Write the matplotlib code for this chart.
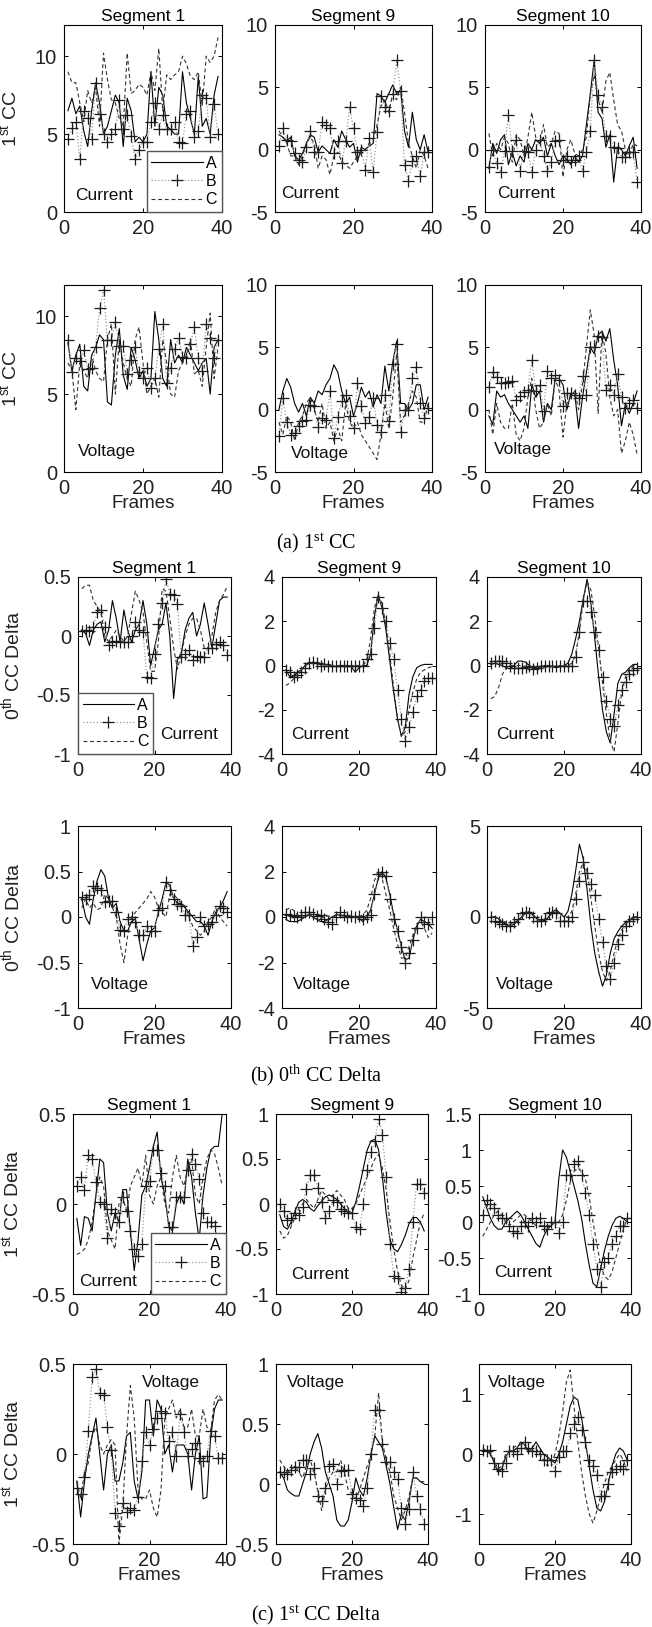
import matplotlib
matplotlib.use('Agg')
import matplotlib.pyplot as plt

plt.rcParams['font.family'] = ['Liberation Sans', 'DejaVu Sans']
plt.rcParams['mathtext.default'] = 'regular'

# ---- data: frames 1..39, series A (solid), B (dotted, +), C (dashed) ----
# (a) 1st CC, current
cc_cur_s1_a = [6.5, 7.3, 6.3, 6.8, 5.2, 4.2, 6.5, 8.3, 7.0, 5.0, 5.5, 6.5, 7.5, 7.0, 4.2, 7.3, 6.5, 4.5, 4.8, 4.5,
               5.0, 9.0, 5.5, 8.0, 7.5, 5.5, 5.3, 5.0, 5.0, 9.0, 7.0, 6.0, 5.0, 8.7, 5.5, 6.0, 5.0, 7.5, 8.7]
cc_cur_s1_b = [4.7, 5.4, 5.8, 3.4, 6.5, 6.0, 4.7, 8.3, 6.3, 5.0, 4.5, 5.0, 5.3, 7.2, 5.3, 6.2, 4.9, 3.4, 4.0, 4.5,
               4.5, 5.8, 7.0, 5.3, 6.2, 5.3, 5.3, 5.8, 4.5, 4.4, 6.3, 6.5, 4.8, 5.2, 7.5, 7.3, 4.8, 6.9, 5.0]
cc_cur_s1_c = [9.0, 8.3, 8.3, 7.0, 5.8, 7.8, 7.0, 8.0, 5.5, 10.2, 8.5, 7.2, 7.0, 6.0, 5.5, 10.2, 7.6, 7.8, 8.2, 8.0,
               7.5, 9.0, 7.8, 10.5, 6.5, 8.8, 8.5, 8.8, 9.0, 10.0, 9.5, 8.7, 8.5, 9.0, 6.8, 10.0, 9.6, 10.0, 11.2]
cc_cur_s9_a = [1.2, 1.0, 0.7, 1.0, -0.5, -0.8, -0.3, 0.5, 1.2, 1.0, -0.2, 0.3, 0.0, -0.3, 0.8, 0.2, 1.5, 0.8, 0.2, 0.5,
               -1.0, 0.2, 0.0, 0.3, 0.5, 4.5, 4.3, 3.8, 4.5, 5.2, 4.5, 4.8, 1.5, 0.2, 3.0, 0.8, 0.0, 1.2, -0.2]
cc_cur_s9_b = [0.3, 1.7, 0.8, 0.7, -0.3, -0.8, -1.0, 0.2, 1.5, -0.2, -0.2, 2.2, 2.0, 1.7, -0.3, 0.7, -1.1, 0.7, 3.4, 1.7,
               -0.2, 0.0, -1.6, 0.9, -1.8, 1.4, 4.3, 3.4, 3.1, 4.5, 7.2, 4.7, -1.2, -2.5, -0.9, -0.5, -2.1, -0.2, -0.2]
cc_cur_s9_c = [1.5, 1.0, 0.5, -0.5, -0.5, -1.2, -0.5, 0.5, 1.0, 0.5, -1.5, -0.5, -0.8, -2.0, -0.5, -0.2, -1.0, -1.2, -1.5, -1.0,
               -0.5, -0.3, 0.0, 0.5, 0.8, 2.0, 3.5, 4.0, 3.0, 4.5, 4.0, 5.0, 3.0, 0.5, -0.5, -1.5, 0.0, -0.5, -1.5]
cc_cur_s10_a = [-1.5, 0.5, -0.3, 0.8, 1.2, -1.2, -0.2, -1.3, -0.5, -1.0, 0.5, 0.0, 0.8, 0.5, 1.0, -0.5, 0.5, -0.5, -1.2, -0.5,
                -0.8, -1.2, -0.5, -1.0, -0.5, 2.0, 4.5, 7.2, 3.0, 2.5, 0.2, 1.2, -2.6, 0.2, 0.0, -0.5, 0.3, 1.0, -1.5]
cc_cur_s10_b = [-1.4, 0.0, -1.1, -1.8, -0.1, 2.8, -0.1, 0.8, -1.7, -0.1, -0.2, -1.8, 0.0, 0.8, -0.5, -1.7, -1.0, 0.7, 0.8, -0.8,
                -0.5, -1.0, -0.8, -0.5, -1.7, -0.2, 1.5, 7.2, 4.4, 3.4, 1.1, 1.1, 0.2, 0.1, -0.6, -0.6, -0.2, -0.2, -2.6]
cc_cur_s10_c = [1.3, -0.5, 0.5, 0.0, 1.0, 0.5, -1.0, 1.2, 0.8, -0.5, 1.0, 3.0, 1.0, 0.5, 2.0, 0.2, 0.5, 1.5, 1.3, -2.2,
                0.0, 0.8, -0.3, -0.5, 0.0, 1.0, 4.5, 6.0, 4.0, 3.0, 5.5, 6.2, 4.0, 2.0, 1.5, 0.0, -0.5, 0.5, 0.3]
# (a) 1st CC, voltage
cc_vol_s1_a = [8.3, 6.5, 7.5, 8.2, 5.5, 5.2, 7.5, 8.0, 8.8, 8.5, 4.5, 4.3, 7.5, 9.2, 6.2, 5.3, 8.0, 7.2, 6.0, 6.5,
               5.5, 6.0, 10.3, 8.5, 6.0, 5.5, 8.5, 7.0, 7.5, 7.0, 8.0, 7.5, 7.0, 6.5, 7.0, 7.3, 5.0, 8.0, 8.5]
cc_vol_s1_b = [8.5, 6.4, 7.3, 7.1, 7.8, 6.6, 6.7, 8.0, 10.5, 11.7, 8.5, 8.5, 9.6, 8.1, 8.1, 6.3, 7.2, 8.0, 6.4, 6.0,
               6.7, 5.4, 6.0, 7.9, 9.5, 5.7, 6.7, 7.9, 8.6, 7.4, 7.3, 8.2, 9.3, 7.3, 6.5, 9.5, 8.6, 7.3, 8.5]
cc_vol_s1_c = [7.0, 6.5, 4.0, 7.0, 6.5, 6.0, 7.5, 6.5, 6.0, 5.8, 8.5, 9.5, 5.0, 8.5, 7.0, 6.0, 5.5, 8.5, 9.3, 7.0,
               5.0, 5.5, 6.0, 4.8, 8.5, 7.0, 5.0, 4.8, 6.5, 7.0, 7.5, 8.5, 6.3, 6.5, 5.5, 8.0, 10.2, 6.0, 8.0]
cc_vol_s9_a = [0.0, 1.5, 2.5, 1.8, 0.5, -0.2, 0.5, -0.5, 1.0, 0.5, 1.5, 1.2, 2.0, 2.5, 3.6, 3.0, 1.5, 0.5, 1.0, -0.5,
               0.5, 1.8, 1.0, 1.5, 0.2, 1.2, 0.5, 3.5, 1.5, 3.8, 5.5, 0.5, 0.5, 0.0, 0.5, 2.0, 2.0, 0.0, 1.0]
cc_vol_s9_b = [-2.1, 0.9, -1.0, -2.0, -1.9, -1.3, -0.9, -0.8, 0.4, 0.3, -1.4, -0.7, -0.8, 1.5, -2.3, -0.6, 0.7, 1.2, -0.5, -1.5,
               2.1, 0.3, -1.1, -0.6, 0.9, -1.2, -1.8, 1.2, -0.9, 3.7, 5.3, -1.8, 0.0, 0.0, 2.5, 3.4, 0.5, -0.7, 0.1]
cc_vol_s9_c = [-1.0, -2.0, -0.5, -1.0, -2.5, -1.0, -0.5, 0.5, 1.0, 0.0, -1.0, 0.5, -1.5, -1.0, -2.5, -1.5, -2.5, 0.5, -1.0, -1.5,
               -1.0, -2.0, -2.5, -3.0, -3.5, -4.0, -2.0, 0.5, -1.5, 1.0, 4.5, -1.0, -0.5, 0.5, 1.5, 1.0, -1.0, -1.0, 0.5]
cc_vol_s10_a = [-0.5, -1.2, 1.5, 1.0, 1.2, 0.5, 0.0, -0.5, -1.0, -0.5, -1.5, 2.0, 1.0, 1.5, -1.0, 0.5, 0.0, 2.5, 2.5, 2.0,
                0.0, 1.3, 1.3, -1.5, 1.0, 3.0, 5.0, 4.5, 6.0, 6.3, 5.5, 6.5, 4.0, 2.0, -1.3, 0.5, -0.3, 0.5, 1.5]
cc_vol_s10_b = [1.8, 3.0, 2.6, 2.1, 2.1, 2.2, 2.3, 0.8, 1.1, 1.4, 1.6, 4.0, 1.5, 2.0, -0.1, 3.1, 2.5, 2.8, 2.4, 0.3,
                1.3, 1.3, 1.2, 0.9, 2.7, 1.2, 5.0, 5.0, 5.9, 5.8, 1.6, 2.0, 1.2, 2.9, 1.0, 0.1, 0.5, 0.8, 0.1]
cc_vol_s10_c = [0.0, -2.0, 0.5, -1.0, -1.5, -1.5, 0.5, -2.0, -2.5, -1.5, 1.0, 2.5, 0.0, -1.5, -1.0, 0.5, -0.5, 2.5, 1.5, -2.2,
                0.5, 1.0, 1.5, 0.0, 2.0, 5.0, 8.0, 6.0, -0.3, 6.3, 4.5, 1.0, -0.5, 0.0, -3.5, -2.5, -1.0, -2.0, -3.6]
# (b) 0th CC Delta, current
d0_cur_s1_a = [0.05, 0.02, -0.08, 0.05, 0.1, 0.12, -0.05, 0.05, 0.3, 0.15, -0.05, 0.22, 0.05, -0.05, 0.05, 0.1, 0.3, 0.1, -0.25, -0.1,
               0.05, 0.1, 0.28, 0.0, -0.53, -0.2, -0.15, 0.05, 0.15, 0.2, 0.0, 0.1, 0.28, 0.1, -0.1, 0.1, 0.3, 0.33, 0.33]
d0_cur_s1_b = [0.04, 0.05, 0.04, 0.08, 0.2, 0.22, 0.08, -0.08, -0.05, -0.04, -0.05, -0.05, -0.05, 0.0, 0.12, 0.05, 0.03, -0.35, -0.36, -0.15,
               0.1, 0.28, 0.48, 0.36, 0.35, 0.27, -0.18, -0.15, -0.12, -0.2, -0.17, -0.18, -0.18, -0.1, -0.1, -0.07, -0.05, -0.08, -0.16]
d0_cur_s1_c = [0.4, 0.43, 0.43, 0.3, 0.25, 0.2, 0.0, -0.05, 0.0, 0.05, 0.0, -0.05, 0.0, 0.2, 0.38, 0.3, 0.2, -0.05, -0.3, -0.3,
               -0.05, 0.4, 0.38, 0.15, -0.1, -0.28, -0.15, 0.0, 0.1, 0.15, 0.15, 0.05, -0.1, -0.1, 0.0, 0.2, 0.3, 0.35, 0.42]
d0_cur_s9_a = [-0.2, -0.5, -0.5, -0.3, -0.2, 0.0, 0.1, 0.15, 0.1, 0.05, 0.05, 0.05, 0.0, -0.05, 0.0, 0.0, 0.0, -0.05, -0.3, -0.1,
               0.0, 0.0, 0.5, 2.2, 3.2, 2.6, 1.6, 0.2, -1.2, -2.4, -3.2, -2.8, -1.3, -0.5, -0.1, 0.0, 0.05, 0.05, 0.05]
d0_cur_s9_b = [-0.2, -0.3, -0.5, -0.45, -0.3, -0.1, 0.1, 0.15, 0.1, 0.0, 0.05, 0.0, 0.0, 0.0, 0.0, 0.0, 0.0, 0.0, 0.0, 0.0,
               0.0, 0.3, 0.5, 1.7, 3.1, 2.6, 2.0, 1.0, 0.3, -1.1, -2.4, -3.4, -2.8, -2.1, -1.4, -1.1, -0.7, -0.55, -0.55]
d0_cur_s9_c = [-0.9, -0.8, -0.6, -0.4, -0.2, 0.0, 0.1, 0.1, 0.05, 0.05, 0.05, 0.0, 0.0, 0.0, 0.0, 0.0, 0.0, 0.0, 0.0, 0.0,
               0.0, 0.2, 1.2, 2.6, 3.2, 2.8, 1.8, 0.5, -1.0, -2.4, -3.2, -3.0, -2.0, -1.2, -0.6, -0.3, -0.2, -0.1, -0.05]
d0_cur_s10_a = [0.05, 0.1, 0.05, 0.0, -0.1, -0.15, 0.0, 0.2, 0.2, 0.15, 0.0, -0.1, -0.1, -0.05, 0.0, 0.0, -0.05, -0.1, -0.05, 0.0,
                0.1, 0.5, 1.2, 2.0, 3.0, 3.9, 2.8, 1.2, -0.5, -2.0, -3.0, -3.5, -2.2, -0.8, -0.4, -0.3, -0.1, 0.05, 0.05]
d0_cur_s10_b = [0.1, 0.2, 0.2, 0.2, 0.1, 0.0, -0.1, -0.1, -0.1, -0.05, 0.0, -0.15, -0.1, 0.0, 0.0, 0.0, 0.0, 0.0, 0.0, 0.0,
                0.0, 0.0, 0.4, 1.5, 2.9, 2.9, 2.4, 1.5, 0.7, -0.5, -1.6, -2.4, -2.75, -1.8, -1.1, -0.75, -0.4, -0.2, -0.1]
d0_cur_s10_c = [-1.5, -1.4, -1.0, -0.4, -0.1, 0.0, 0.0, 0.0, 0.0, -0.05, -0.05, -0.1, -0.1, -0.1, -0.1, -0.05, -0.05, -0.05, 0.0, 0.0,
                0.0, 0.1, 0.5, 1.5, 3.0, 3.8, 3.4, 2.2, 0.8, -0.8, -2.2, -3.4, -3.9, -2.6, -1.2, -0.5, -0.2, 0.0, 0.05]
# (b) 0th CC Delta, voltage
d0_vol_s1_a = [0.2, 0.0, -0.08, 0.2, 0.4, 0.52, 0.45, 0.2, 0.1, 0.15, -0.05, -0.15, -0.15, -0.05, -0.02, -0.25, -0.48, -0.3, -0.15, -0.12,
               0.05, 0.2, 0.38, 0.35, 0.2, 0.15, 0.15, 0.1, 0.05, 0.0, -0.05, -0.05, -0.1, -0.2, -0.05, 0.05, 0.1, 0.18, 0.28]
d0_vol_s1_b = [0.22, 0.2, 0.24, 0.34, 0.32, 0.3, 0.16, 0.18, 0.18, 0.05, -0.14, -0.15, -0.02, 0.0, -0.05, -0.2, -0.2, -0.1, -0.15, -0.15,
               0.08, 0.1, 0.38, 0.3, 0.2, 0.14, 0.12, 0.02, 0.02, -0.32, -0.22, 0.0, -0.1, -0.08, -0.06, 0.02, 0.12, 0.1, 0.05]
d0_vol_s1_c = [0.1, 0.2, 0.1, 0.15, 0.08, 0.1, 0.25, 0.2, 0.1, 0.0, -0.3, -0.5, -0.2, 0.0, 0.05, 0.1, 0.15, 0.2, 0.28, 0.22,
               0.1, 0.05, 0.0, 0.25, 0.25, 0.2, 0.15, 0.12, 0.0, -0.1, -0.15, -0.2, -0.15, -0.05, 0.0, 0.1, 0.0, -0.05, -0.1]
d0_vol_s9_a = [-0.1, -0.2, -0.2, -0.2, -0.1, 0.0, 0.1, 0.0, -0.1, -0.2, -0.2, -0.1, 0.0, 0.1, 0.1, 0.05, 0.0, 0.0, 0.0, -0.05,
               -0.2, 0.0, 0.3, 1.0, 1.7, 2.0, 1.7, 1.0, 0.1, -0.6, -1.3, -1.9, -1.8, -1.0, -0.4, -0.1, -0.2, -0.3, -0.5]
d0_vol_s9_b = [0.15, 0.1, 0.05, 0.0, 0.1, 0.2, 0.2, 0.15, 0.05, 0.1, -0.1, -0.2, -0.3, 0.0, 0.2, 0.1, 0.0, 0.05, 0.0, 0.05,
               -0.1, 0.0, 0.1, 1.0, 1.9, 2.0, 1.8, 0.8, -0.1, -0.6, -1.3, -2.0, -1.6, -1.0, -0.5, 0.0, -0.2, -0.3, 0.0]
d0_vol_s9_c = [0.3, 0.4, 0.3, 0.1, 0.0, 0.0, 0.1, 0.0, -0.1, -0.05, 0.0, 0.05, 0.0, 0.05, 0.05, 0.05, 0.05, 0.0, 0.0, 0.0,
               0.1, 0.3, 0.8, 1.6, 2.0, 1.7, 1.0, 0.3, -0.5, -1.2, -1.8, -1.8, -1.3, -0.8, -0.3, -0.2, -0.5, -0.9, -0.7]
d0_vol_s10_a = [0.0, 0.0, -0.1, -0.3, -0.4, -0.5, -0.4, -0.2, 0.0, 0.2, 0.3, 0.1, -0.1, -0.2, -0.2, 0.0, 0.3, 0.4, 0.2, 0.0,
                0.3, 1.2, 2.5, 4.0, 3.2, 1.5, -0.5, -2.0, -3.0, -3.8, -3.2, -2.0, -1.2, -0.8, -0.5, -0.3, -0.2, 0.0, 0.0]
d0_vol_s10_b = [0.0, -0.2, -0.3, -0.4, -0.5, -0.5, -0.3, -0.1, 0.2, 0.3, 0.2, 0.0, -0.2, -0.2, -0.1, 0.2, 0.3, 0.2, -0.2, -0.2,
                -0.2, 0.0, 1.0, 2.0, 3.0, 2.4, 1.8, 1.2, -0.1, -1.4, -2.7, -3.4, -2.5, -1.5, -1.0, -0.5, -0.2, -0.1, 0.0]
d0_vol_s10_c = [0.0, 0.0, -0.1, -0.2, -0.3, -0.4, -0.3, -0.2, 0.0, 0.2, 0.2, 0.1, -0.1, -0.2, -0.1, 0.0, 0.2, 0.3, 0.2, 0.0,
                0.0, 0.3, 1.2, 2.5, 3.0, 2.5, 1.0, -0.5, -2.0, -3.0, -3.5, -3.0, -2.0, -1.2, -0.7, -0.4, -0.2, 0.0, 0.0]
# (c) 1st CC Delta, current
d1_cur_s1_a = [-0.08, -0.23, -0.07, -0.08, -0.15, 0.05, 0.25, 0.23, -0.05, -0.15, -0.05, -0.1, 0.08, 0.08, -0.15, -0.37, -0.2, 0.05, 0.1, 0.2,
               0.32, 0.4, 0.15, 0.05, -0.12, -0.15, 0.0, 0.05, 0.0, 0.25, 0.15, -0.05, -0.2, 0.05, 0.2, 0.3, 0.32, 0.32, 0.5]
d1_cur_s1_b = [0.1, 0.15, 0.08, 0.27, 0.25, 0.12, 0.01, 0.0, -0.19, -0.03, -0.05, -0.1, 0.04, -0.04, -0.15, -0.25, -0.29, -0.22, 0.1, 0.13,
               0.3, 0.3, 0.17, 0.1, -0.13, -0.13, 0.04, 0.04, 0.04, 0.19, 0.28, 0.22, 0.14, -0.05, -0.1, -0.1, -0.12, -0.2, -0.25]
d1_cur_s1_c = [-0.28, -0.27, -0.25, -0.2, -0.1, 0.05, 0.15, 0.1, -0.15, -0.2, -0.25, 0.0, 0.05, -0.05, 0.1, 0.15, 0.2, 0.1, 0.27, 0.05,
               0.0, 0.1, 0.15, 0.0, -0.05, 0.15, 0.27, 0.15, 0.1, 0.2, 0.25, 0.05, 0.0, 0.15, 0.25, 0.3, 0.28, 0.2, 0.1]
d1_cur_s9_a = [-0.12, -0.25, -0.28, -0.2, -0.08, 0.02, 0.05, 0.02, -0.05, -0.08, -0.02, 0.03, 0.08, 0.1, 0.08, 0.05, 0.0, -0.05, -0.1, -0.1,
               0.02, 0.2, 0.4, 0.6, 0.7, 0.72, 0.6, 0.3, -0.1, -0.4, -0.5, -0.53, -0.45, -0.35, -0.22, -0.15, -0.15, -0.2, -0.3]
d1_cur_s9_b = [0.0, -0.08, -0.18, -0.15, -0.1, -0.12, -0.03, 0.17, 0.32, 0.32, 0.18, 0.02, -0.15, -0.08, 0.05, 0.02, -0.05, -0.08, -0.1, -0.1,
               -0.25, -0.28, 0.0, 0.38, 0.58, 0.7, 0.95, 0.77, 0.3, -0.44, -0.8, -0.82, -0.98, -0.93, -0.72, -0.2, 0.22, 0.22, 0.12]
d1_cur_s9_c = [-0.3, -0.38, -0.35, -0.25, -0.15, -0.05, 0.0, 0.05, 0.0, -0.05, 0.05, 0.15, 0.1, 0.05, 0.1, 0.15, 0.1, 0.05, -0.05, -0.05,
               0.0, 0.1, 0.2, 0.3, 0.4, 0.5, 0.55, 0.4, 0.15, -0.2, -0.5, -0.75, -0.9, -0.95, -0.85, -0.6, -0.4, -0.2, -0.1]
d1_cur_s10_a = [0.35, 0.2, 0.05, -0.05, -0.1, -0.1, 0.0, 0.05, 0.1, 0.15, 0.1, 0.0, -0.1, -0.2, -0.3, -0.35, -0.2, -0.1, -0.05, 0.0,
                0.6, 1.0, 0.9, 0.7, 0.5, 0.3, 0.05, -0.3, -0.6, -0.85, -0.9, -0.65, -0.4, -0.2, -0.05, 0.05, 0.08, 0.05, 0.0]
d1_cur_s10_b = [0.1, 0.3, 0.25, 0.2, 0.1, 0.05, 0.05, -0.05, -0.12, -0.15, -0.05, 0.0, -0.05, 0.05, 0.0, 0.05, -0.05, -0.1, 0.0, 0.0,
                -0.15, 0.0, 0.65, 0.65, 0.8, 0.85, 0.65, 0.4, 0.1, -0.3, -0.65, -0.9, -0.55, -0.5, -0.3, -0.2, -0.05, -0.05, 0.05]
d1_cur_s10_c = [-0.2, -0.1, 0.0, 0.1, 0.15, 0.1, 0.0, -0.05, 0.0, 0.05, 0.1, 0.1, 0.05, 0.0, -0.05, -0.05, -0.05, -0.05, -0.05, 0.0,
                0.0, 0.1, 0.3, 0.55, 0.7, 0.75, 0.7, 0.6, 0.35, 0.0, -0.3, -0.6, -0.75, -0.8, -0.7, -0.5, -0.3, -0.1, 0.05]
# (c) 1st CC Delta, voltage
d1_vol_s1_a = [-0.15, -0.35, -0.15, 0.0, 0.1, 0.2, 0.0, -0.2, 0.0, 0.05, -0.15, -0.15, -0.05, 0.1, 0.12, -0.15, -0.25, -0.1, 0.3, 0.3,
               0.1, 0.3, 0.25, 0.0, 0.05, -0.1, 0.05, 0.05, 0.05, 0.0, -0.2, 0.0, 0.1, -0.25, -0.24, 0.1, 0.25, 0.3, 0.3]
d1_vol_s1_b = [-0.19, -0.22, -0.13, 0.13, 0.43, 0.47, 0.34, 0.33, 0.15, 0.02, -0.33, -0.4, -0.27, -0.32, -0.3, -0.31, -0.24, -0.04, 0.12, 0.05,
               0.14, 0.2, 0.24, 0.23, 0.07, 0.12, -0.01, 0.22, 0.12, -0.01, 0.03, 0.06, -0.02, -0.04, -0.01, 0.13, 0.1, -0.02, -0.02]
d1_vol_s1_c = [-0.15, -0.25, -0.1, -0.05, 0.1, 0.15, 0.05, 0.0, 0.05, 0.08, 0.05, -0.5, -0.3, 0.1, 0.38, 0.2, -0.2, -0.25, -0.25, -0.2,
               -0.3, -0.35, -0.2, 0.2, 0.25, 0.3, 0.2, 0.25, 0.15, 0.15, 0.25, 0.1, 0.1, 0.25, 0.15, 0.13, 0.3, 0.33, 0.3]
d1_vol_s9_a = [0.1, 0.05, -0.05, -0.08, -0.1, -0.1, 0.0, 0.1, 0.25, 0.35, 0.42, 0.3, 0.1, 0.0, -0.1, -0.3, -0.35, -0.35, -0.3, -0.15,
               0.05, -0.05, -0.1, 0.05, 0.25, 0.4, 0.35, 0.3, 0.15, 0.0, -0.2, -0.38, -0.25, -0.3, -0.15, 0.05, 0.05, 0.02, 0.0]
d1_vol_s9_b = [0.1, 0.1, 0.08, 0.12, 0.14, 0.14, 0.2, 0.2, 0.08, 0.13, -0.1, -0.14, -0.03, 0.15, 0.17, 0.0, 0.11, 0.12, 0.12, -0.08,
               -0.12, -0.13, -0.18, -0.03, 0.25, 0.62, 0.62, 0.33, 0.18, 0.18, 0.1, 0.04, -0.2, -0.33, -0.21, 0.1, -0.1, -0.21, -0.33]
d1_vol_s9_c = [0.2, 0.15, 0.1, 0.12, 0.15, 0.1, 0.05, 0.15, 0.2, 0.1, -0.05, -0.22, -0.05, 0.05, 0.1, 0.1, 0.2, 0.1, -0.05, -0.08,
               -0.12, -0.05, 0.05, 0.15, 0.25, 0.4, 0.76, 0.35, 0.2, 0.1, -0.1, -0.2, -0.3, -0.22, -0.1, 0.05, 0.05, 0.02, 0.02]
d1_vol_s10_a = [0.05, 0.05, 0.0, -0.15, -0.3, -0.25, -0.05, 0.05, 0.05, 0.1, 0.2, 0.15, 0.05, 0.1, 0.2, 0.1, 0.0, -0.05, -0.1, -0.15,
                0.0, 0.2, 0.5, 0.8, 0.95, 0.9, 0.6, 0.2, -0.2, -0.6, -0.9, -0.95, -0.8, -0.5, -0.2, 0.0, 0.1, 0.05, -0.1]
d1_vol_s10_b = [0.07, 0.05, 0.06, -0.15, -0.25, -0.28, -0.15, 0.05, 0.05, 0.0, 0.1, 0.2, 0.1, 0.05, 0.05, 0.0, -0.1, -0.1, -0.1, -0.28,
                -0.05, 0.05, 0.05, 0.35, 0.5, 0.62, 0.4, 0.2, -0.1, -0.2, -0.35, -0.7, -0.7, -0.5, -0.3, -0.25, -0.2, -0.25, -0.1]
d1_vol_s10_c = [0.1, 0.05, 0.0, -0.1, -0.25, -0.2, 0.0, 0.05, 0.1, 0.15, 0.15, 0.1, 0.05, 0.05, 0.1, 0.0, -0.1, -0.2, -0.15, 0.0,
                0.3, 0.7, 1.2, 1.4, 0.8, 0.2, -0.3, -0.7, -1.0, -1.15, -0.95, -0.7, -0.5, -0.3, -0.2, -0.1, 0.0, -0.1, -0.3]

seg_titles = ['Segment 1', 'Segment 9', 'Segment 10']
row_ylabels = ['1$^{st}$ CC', '1$^{st}$ CC', '0$^{th}$ CC Delta', '0$^{th}$ CC Delta',
               '1$^{st}$ CC Delta', '1$^{st}$ CC Delta']
captions = ['(a) 1$^{st}$ CC', '(b) 0$^{th}$ CC Delta', '(c) 1$^{st}$ CC Delta']
frame_ticks = [0, 20, 40]

rows = [
    [(cc_cur_s1_a, cc_cur_s1_b, cc_cur_s1_c), (cc_cur_s9_a, cc_cur_s9_b, cc_cur_s9_c), (cc_cur_s10_a, cc_cur_s10_b, cc_cur_s10_c)],
    [(cc_vol_s1_a, cc_vol_s1_b, cc_vol_s1_c), (cc_vol_s9_a, cc_vol_s9_b, cc_vol_s9_c), (cc_vol_s10_a, cc_vol_s10_b, cc_vol_s10_c)],
    [(d0_cur_s1_a, d0_cur_s1_b, d0_cur_s1_c), (d0_cur_s9_a, d0_cur_s9_b, d0_cur_s9_c), (d0_cur_s10_a, d0_cur_s10_b, d0_cur_s10_c)],
    [(d0_vol_s1_a, d0_vol_s1_b, d0_vol_s1_c), (d0_vol_s9_a, d0_vol_s9_b, d0_vol_s9_c), (d0_vol_s10_a, d0_vol_s10_b, d0_vol_s10_c)],
    [(d1_cur_s1_a, d1_cur_s1_b, d1_cur_s1_c), (d1_cur_s9_a, d1_cur_s9_b, d1_cur_s9_c), (d1_cur_s10_a, d1_cur_s10_b, d1_cur_s10_c)],
    [(d1_vol_s1_a, d1_vol_s1_b, d1_vol_s1_c), (d1_vol_s9_a, d1_vol_s9_b, d1_vol_s9_c), (d1_vol_s10_a, d1_vol_s10_b, d1_vol_s10_c)],
]

ylims = [
    [(0, 12), (-5, 10), (-5, 10)],
    [(0, 12), (-5, 10), (-5, 10)],
    [(-1, 0.5), (-4, 4), (-4, 4)],
    [(-1, 1), (-4, 4), (-5, 5)],
    [(-0.5, 0.5), (-1, 1), (-1, 1.5)],
    [(-0.5, 0.5), (-0.5, 1), (-1.5, 1.5)],
]
yticks = [
    [[0, 5, 10], [-5, 0, 5, 10], [-5, 0, 5, 10]],
    [[0, 5, 10], [-5, 0, 5, 10], [-5, 0, 5, 10]],
    [[-1, -0.5, 0, 0.5], [-4, -2, 0, 2, 4], [-4, -2, 0, 2, 4]],
    [[-1, -0.5, 0, 0.5, 1], [-4, -2, 0, 2, 4], [-5, 0, 5]],
    [[-0.5, 0, 0.5], [-1, -0.5, 0, 0.5, 1], [-1, -0.5, 0, 0.5, 1, 1.5]],
    [[-0.5, 0, 0.5], [-0.5, 0, 0.5, 1], [-1, 0, 1]],
]

# ---- layout (pixels) ----
W, H = 652, 1627
row_tb = [(25, 212), (285, 472), (577, 754), (826, 1008), (1114, 1294), (1364, 1544)]
col_lr = [
    [(64, 222), (275, 432), (485, 641)],
    [(64, 222), (275, 432), (485, 641)],
    [(78, 231), (282, 436), (487, 641)],
    [(78, 231), (282, 436), (487, 641)],
    [(73, 226), (276, 428), (479, 631)],
    [(73, 226), (276, 428), (479, 631)],
]
tag_pos = [
    [(0.07, 0.09), (0.04, 0.10), (0.08, 0.10)],
    [(0.09, 0.11), (0.10, 0.10), (0.06, 0.12)],
    [(0.54, 0.11), (0.06, 0.11), (0.06, 0.11)],
    [(0.085, 0.13), (0.07, 0.13), (0.06, 0.13)],
    [(0.04, 0.07), (0.10, 0.11), (0.10, 0.12)],
    [(0.45, 0.90), (0.07, 0.90), (0.06, 0.90)],
]
ylabel_x = [-0.27, -0.27, -0.36, -0.36, -0.33, -0.33]
legend_loc = {0: 'lower right', 2: 'lower left', 4: 'lower right'}
caption_y = [543, 1075, 1615]

fig = plt.figure(figsize=(W / 100, H / 100), dpi=100)

for r in range(6):
    t, b = row_tb[r]
    for c in range(3):
        l, rr = col_lr[r][c]
        ax = fig.add_axes([l / W, 1 - b / H, (rr - l) / W, (b - t) / H])
        sa, sb, sc = rows[r][c]
        ax.plot(range(1, len(sa) + 1), sa, color='black', lw=0.8, label='A')
        ax.plot(range(1, len(sb) + 1), sb, color='#9a9a9a', ls=':', lw=0.9,
                marker='+', ms=9, mec='#1a1a1a', mew=0.9, label='B')
        ax.plot(range(1, len(sc) + 1), sc, color='#333333', ls=(0, (3.5, 2.5)), lw=0.8, label='C')
        ax.set_xlim(0, 40)
        ax.set_ylim(*ylims[r][c])
        ax.set_xticks(frame_ticks)
        ax.set_yticks(yticks[r][c])
        ax.set_yticklabels([('%g' % v) for v in yticks[r][c]])
        ax.tick_params(direction='in', length=3, width=0.7, top=True, right=True,
                       labelsize=14.5, pad=5, colors='black', labelcolor='#222222')
        for sp in ax.spines.values():
            sp.set_linewidth(0.8)
        tag = 'Current' if r % 2 == 0 else 'Voltage'
        tx, ty = tag_pos[r][c]
        ax.text(tx, ty, tag, transform=ax.transAxes, fontsize=12.5, ha='left', va='center', color='#111111')
        if r % 2 == 0:
            ax.set_title(seg_titles[c], fontsize=12.5, pad=3)
        if r % 2 == 1:
            ax.set_xlabel('Frames', fontsize=13.5, labelpad=-2, color='#222222')
        if c == 0:
            ax.set_ylabel(row_ylabels[r], fontsize=14, color='#222222')
            ax.yaxis.set_label_coords(ylabel_x[r], 0.5)
            if r in legend_loc:
                leg = ax.legend(loc=legend_loc[r], borderaxespad=0, fontsize=11.5, fancybox=False,
                                framealpha=1, edgecolor='#555555', handlelength=3.2,
                                handletextpad=0.2, labelspacing=0.2, borderpad=0.3)
                leg.get_frame().set_linewidth(1.0)

for i, cap in enumerate(captions):
    fig.text(316 / W, 1 - caption_y[i] / H, cap, family=['Liberation Serif', 'DejaVu Serif'],
             fontsize=14.5, ha='center', va='center')

fig.savefig('out.png', dpi=100)
